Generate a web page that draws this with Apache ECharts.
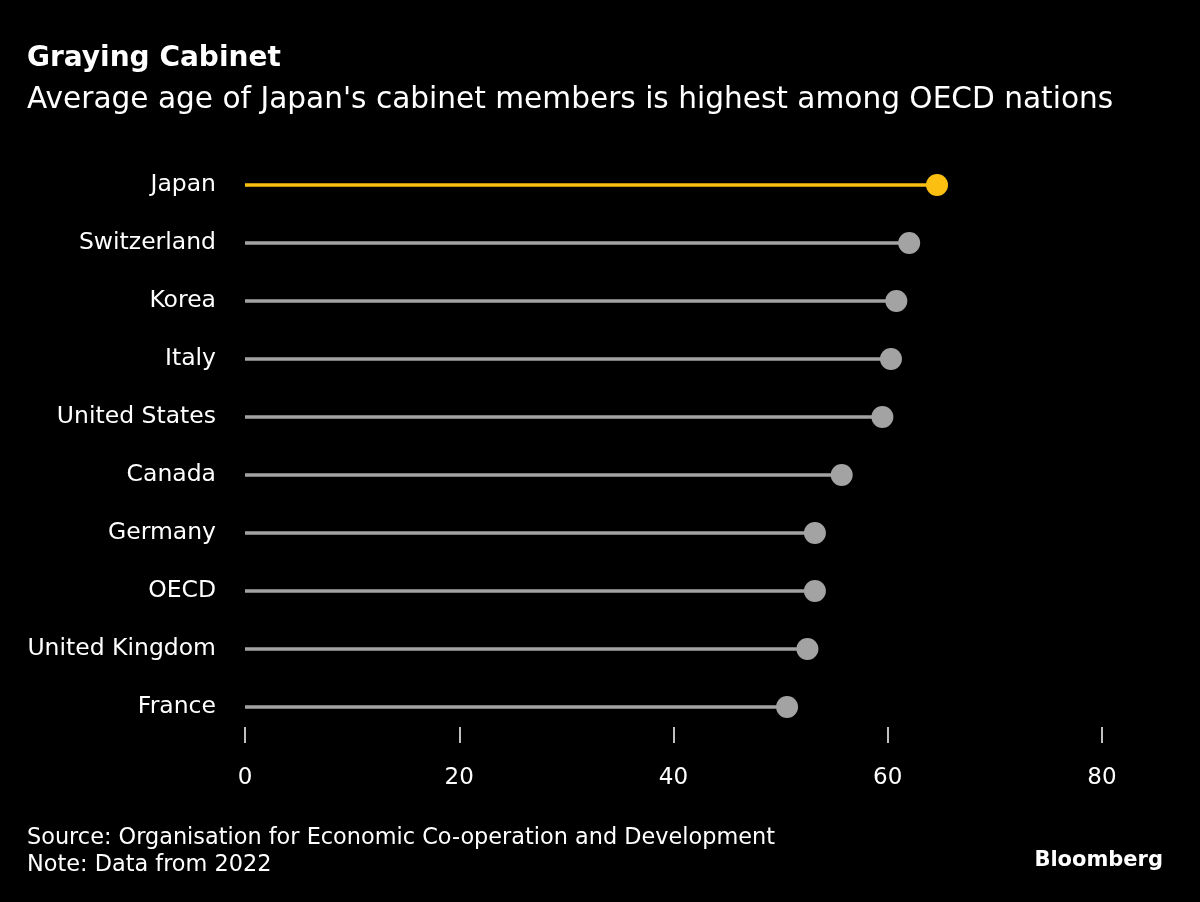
<!DOCTYPE html>
<html>
<head>
<meta charset="utf-8">
<script src="https://cdn.jsdelivr.net/npm/echarts@6/dist/echarts.min.js"></script>
<style>
html,body{margin:0;padding:0;background:#000;}
#chart{width:1200px;height:902px;}
</style>
</head>
<body>
<div id="chart"></div>
<script>
const countries = ["Japan","Switzerland","Korea","Italy","United States","Canada","Germany","OECD","United Kingdom","France"];
const avgAge = [64.6,62.0,60.8,60.3,59.5,55.7,53.2,53.2,52.5,50.6];
const highlight = "Japan";
const xTicks = [0,20,40,60,80];

const yellow = "#fbbf12";
const gray = "#a3a3a3";
const font = "DejaVu Sans, Liberation Sans, sans-serif";

const chart = echarts.init(document.getElementById('chart'));
const colorFor = c => c === highlight ? yellow : gray;

chart.setOption({
  backgroundColor: "#000",
  animation: false,
  title: [
    {text: "Graying Cabinet", left: 22, top: 40, textStyle: {color: "#fff", fontSize: 28, fontWeight: "bold", fontFamily: font}},
    {text: "Average age of Japan's cabinet members is highest among OECD nations", left: 22, top: 80, textStyle: {color: "#fff", fontSize: 29.6, fontWeight: "normal", fontFamily: font}},
    {text: "Source: Organisation for Economic Co-operation and Development\nNote: Data from 2022", left: 22, top: 820, textStyle: {color: "#fff", fontSize: 22.4, fontWeight: "normal", fontFamily: font, lineHeight: 27}},
    {text: "Bloomberg", right: 32, top: 845, textStyle: {color: "#fff", fontSize: 21, fontWeight: "bold", fontFamily: font}}
  ],
  grid: {left: 245, right: 98, top: 156, bottom: 166, containLabel: false},
  xAxis: {
    type: "value", min: xTicks[0], max: xTicks[xTicks.length-1], interval: 20,
    offset: -9,
    splitLine: {show: false},
    axisLine: {show: false},
    axisTick: {show: true, length: 16, lineStyle: {color: "#fff", width: 1.5}},
    axisLabel: {color: "#fff", fontSize: 23, fontFamily: font, margin: 40}
  },
  yAxis: {
    type: "category", data: countries, inverse: true,
    axisLine: {show: false}, axisTick: {show: false},
    axisLabel: {color: "#fff", fontSize: 23.5, fontFamily: font, margin: 29}
  },
  series: [
    {
      type: "bar",
      data: avgAge.map((v,i) => ({value: v, itemStyle: {color: colorFor(countries[i])}})),
      barWidth: 3.5,
      silent: true
    },
    {
      type: "scatter",
      data: avgAge.map((v,i) => ({value: [v, countries[i]], itemStyle: {color: colorFor(countries[i]), opacity: 1}})),
      symbolSize: 22,
      z: 5
    }
  ]
});
</script>
</body>
</html>
